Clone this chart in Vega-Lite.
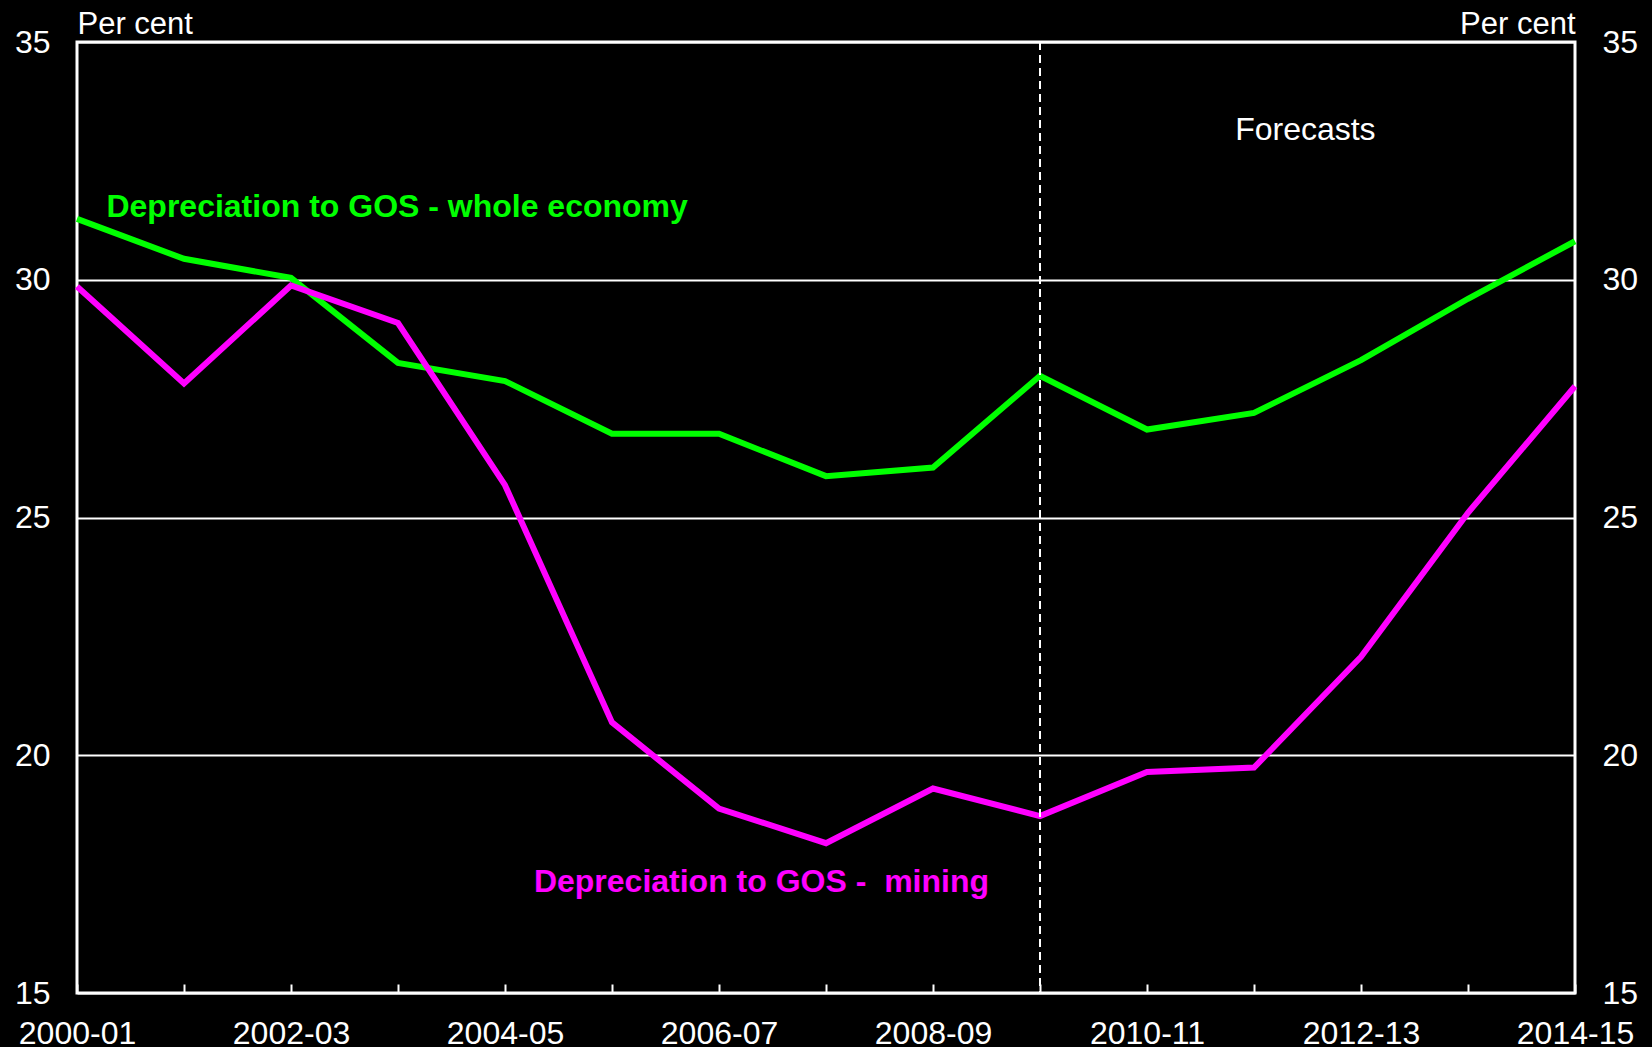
{
  "$schema": "https://vega.github.io/schema/vega-lite/v6.json",
  "width": 1498,
  "height": 951,
  "autosize": "none",
  "padding": {"left": 77, "top": 42, "right": 77, "bottom": 54},
  "background": "black",
  "config": {
    "view": {"stroke": "white", "strokeWidth": 3},
    "font": "Liberation Sans",
    "axis": {"labelFont": "Liberation Sans", "titleFont": "Liberation Sans", "labelColor": "white", "titleColor": "white", "labelFontSize": 32, "titleFontSize": 31, "titleFontWeight": "normal", "domain": false}
  },
  "datasets": {
    "series": [
      {"year": 2000, "series": "whole", "value": 31.28},
      {"year": 2001, "series": "whole", "value": 30.44},
      {"year": 2002, "series": "whole", "value": 30.04},
      {"year": 2003, "series": "whole", "value": 28.25},
      {"year": 2004, "series": "whole", "value": 27.87},
      {"year": 2005, "series": "whole", "value": 26.76},
      {"year": 2006, "series": "whole", "value": 26.76},
      {"year": 2007, "series": "whole", "value": 25.87},
      {"year": 2008, "series": "whole", "value": 26.05},
      {"year": 2009, "series": "whole", "value": 27.98},
      {"year": 2010, "series": "whole", "value": 26.85},
      {"year": 2011, "series": "whole", "value": 27.2},
      {"year": 2012, "series": "whole", "value": 28.31},
      {"year": 2013, "series": "whole", "value": 29.6},
      {"year": 2014, "series": "whole", "value": 30.81},
      {"year": 2000, "series": "mining", "value": 29.86},
      {"year": 2001, "series": "mining", "value": 27.82},
      {"year": 2002, "series": "mining", "value": 29.88},
      {"year": 2003, "series": "mining", "value": 29.09},
      {"year": 2004, "series": "mining", "value": 25.68},
      {"year": 2005, "series": "mining", "value": 20.69},
      {"year": 2006, "series": "mining", "value": 18.88},
      {"year": 2007, "series": "mining", "value": 18.15},
      {"year": 2008, "series": "mining", "value": 19.3},
      {"year": 2009, "series": "mining", "value": 18.72},
      {"year": 2010, "series": "mining", "value": 19.65},
      {"year": 2011, "series": "mining", "value": 19.74},
      {"year": 2012, "series": "mining", "value": 22.07},
      {"year": 2013, "series": "mining", "value": 25.1},
      {"year": 2014, "series": "mining", "value": 27.76}
    ],
    "labels": [
      {"year": 2000.275, "value": 31.53, "series": "whole", "label": "Depreciation to GOS - whole economy"},
      {"year": 2004.27, "value": 17.33, "series": "mining", "label": "Depreciation to GOS - \u00a0mining"}
    ],
    "notes": [
      {"year": 2011.48, "value": 33.15, "label": "Forecasts"}
    ],
    "forecast": [
      {"year": 2009}
    ]
  },
  "resolve": {"scale": {"y": "independent"}},
  "layer": [
    {
      "data": {"name": "series"},
      "mark": {"type": "line", "strokeWidth": 6, "clip": false},
      "encoding": {
        "x": {
          "field": "year", "type": "quantitative",
          "scale": {"domain": [2000, 2014], "nice": false, "zero": false},
          "axis": {
            "title": null,
            "values": [2000, 2001, 2002, 2003, 2004, 2005, 2006, 2007, 2008, 2009, 2010, 2011, 2012, 2013, 2014],
            "labelExpr": "datum.value % 2 == 0 ? datum.value + '-' + format((datum.value + 1) % 100, '02d') : ''",
            "labelOverlap": false,
            "labelFlush": false,
            "grid": false,
            "ticks": true,
            "tickColor": "white",
            "tickWidth": 2,
            "tickSize": -9,
            "labelPadding": 34,
            "labelBaseline": "top"
          }
        },
        "y": {
          "field": "value", "type": "quantitative",
          "scale": {"domain": [15, 35], "nice": false, "zero": false},
          "axis": {
            "orient": "left",
            "values": [15, 20, 25, 30, 35],
            "title": "Per cent",
            "titleAngle": 0,
            "titleAlign": "left",
            "titleBaseline": "alphabetic",
            "titleX": 0,
            "titleY": -9,
            "ticks": false,
            "labelPadding": 27,
            "labelBaseline": "middle",
            "labelFlush": false,
            "grid": true,
            "gridColor": "white",
            "gridWidth": 2,
            "gridOpacity": 1
          }
        },
        "color": {
          "field": "series", "type": "nominal",
          "scale": {"domain": ["whole", "mining"], "range": ["#00ff00", "#ff00ff"]},
          "legend": null
        }
      }
    },
    {
      "data": {"name": "forecast"},
      "mark": {"type": "rule", "color": "white", "strokeWidth": 2, "strokeDash": [8, 5]},
      "encoding": {
        "x": {"field": "year", "type": "quantitative"}
      }
    },
    {
      "data": {"name": "labels"},
      "mark": {"type": "text", "align": "left", "baseline": "middle", "fontSize": 32, "fontWeight": "bold", "font": "Liberation Sans"},
      "encoding": {
        "x": {"field": "year", "type": "quantitative"},
        "y": {
          "field": "value", "type": "quantitative",
          "scale": {"domain": [15, 35], "nice": false, "zero": false},
          "axis": {
            "orient": "right",
            "values": [15, 20, 25, 30, 35],
            "title": "Per cent",
            "titleAngle": 0,
            "titleAlign": "right",
            "titleBaseline": "alphabetic",
            "titleX": 0,
            "titleY": -9,
            "ticks": false,
            "labelPadding": 27,
            "labelBaseline": "middle",
            "labelFlush": false,
            "grid": false
          }
        },
        "text": {"field": "label"},
        "color": {"field": "series", "type": "nominal", "legend": null}
      }
    },
    {
      "data": {"name": "notes"},
      "mark": {"type": "text", "align": "center", "baseline": "middle", "fontSize": 32, "color": "white", "font": "Liberation Sans"},
      "encoding": {
        "x": {"field": "year", "type": "quantitative"},
        "y": {
          "field": "value", "type": "quantitative",
          "scale": {"domain": [15, 35], "nice": false, "zero": false},
          "axis": null
        },
        "text": {"field": "label"}
      }
    }
  ]
}
